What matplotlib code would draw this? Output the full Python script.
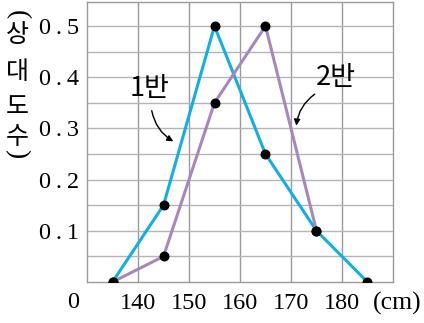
import matplotlib
matplotlib.use("Agg")
import matplotlib.pyplot as plt

# data
x1 = [135, 145, 155, 165, 175, 185]
y1 = [0.0, 0.15, 0.5, 0.25, 0.1, 0.0]
x2 = [135, 145, 155, 165, 175]
y2 = [0.0, 0.05, 0.35, 0.5, 0.1]
xticks = [140, 150, 160, 170, 180]
yticks = [0.1, 0.2, 0.3, 0.4, 0.5]
ytick_labels = ["0\u2009.\u20091", "0\u2009.\u20092", "0\u2009.\u20093", "0\u2009.\u20094", "0\u2009.\u20095"]
ylabel_chars = ["(", "상", "대", "도", "수", ")"]

serif = ["Liberation Serif", "DejaVu Serif"]
kr = ["Noto Sans CJK KR", "DejaVu Sans"]
fs = 17.5

fig = plt.figure(figsize=(4.24, 3.23), dpi=100)
ax = fig.add_axes([87/424, 1-282/323, (393-87)/424, (282-2)/323])
ax.set_xlim(130, 190)
ax.set_ylim(0, 0.547)

# grid
for gx in range(140, 190, 10):
    ax.axvline(gx, color="#9a9a9a", lw=1.0, zorder=0)
for i in range(1, 11):
    ax.axhline(i*0.05, color="#b5b5b5", lw=1.0, zorder=0)
for s in ax.spines.values():
    s.set_color("#9a9a9a")
    s.set_linewidth(1.0)

ax.plot(x1, y1, color="#12aee8", lw=2.2, zorder=2, solid_capstyle="round")
ax.plot(x2, y2, color="#a688c0", lw=2.2, zorder=2, solid_capstyle="round")
ax.scatter(x1, y1, s=38, color="black", zorder=4)
ax.scatter(x2, y2, s=38, color="black", zorder=4)

ax.set_xticks(xticks)
ax.set_xticklabels([str(v) for v in xticks], fontfamily=serif, fontsize=fs)
ax.set_yticks(yticks)
ax.set_yticklabels(ytick_labels, fontfamily=serif, fontsize=fs)
ax.tick_params(axis="y", length=0, pad=6)
ax.tick_params(axis="x", length=0, pad=8)

ax.text(127.2, -0.041, "0", fontfamily=serif, fontsize=fs, ha="center", va="center")
ax.text(190.8, -0.041, "(cm)", fontfamily=serif, fontsize=18.5, ha="center", va="center", clip_on=False)

# vertical y label: parens rotated, hangul upright
ypos = [15, 35, 72, 107, 137, 154]
for ch, yp in zip(ylabel_chars, ypos):
    if ch in "()":
        fig.text(17/424, 1-yp/323, ch, family=serif, fontsize=20, rotation=-90,
                 ha="center", va="center")
    else:
        fig.text(17/424, 1-yp/323, ch, family=kr, fontsize=18,
                 ha="center", va="center")

ax.text(142.3, 0.378, "1반", family=kr, fontsize=19.5, ha="center", va="center")
ax.annotate("", xy=(147.4, 0.272), xytext=(142.6, 0.34),
            arrowprops=dict(arrowstyle="-|>", color="black", lw=1.0,
                            mutation_scale=9, connectionstyle="arc3,rad=0.25"))
ax.text(178.7, 0.40, "2반", family=kr, fontsize=19.5, ha="center", va="center")
ax.annotate("", xy=(171.0, 0.30), xytext=(175.1, 0.37),
            arrowprops=dict(arrowstyle="-|>", color="black", lw=1.0,
                            mutation_scale=9, connectionstyle="arc3,rad=0.25"))

fig.savefig("out.png", dpi=100)
